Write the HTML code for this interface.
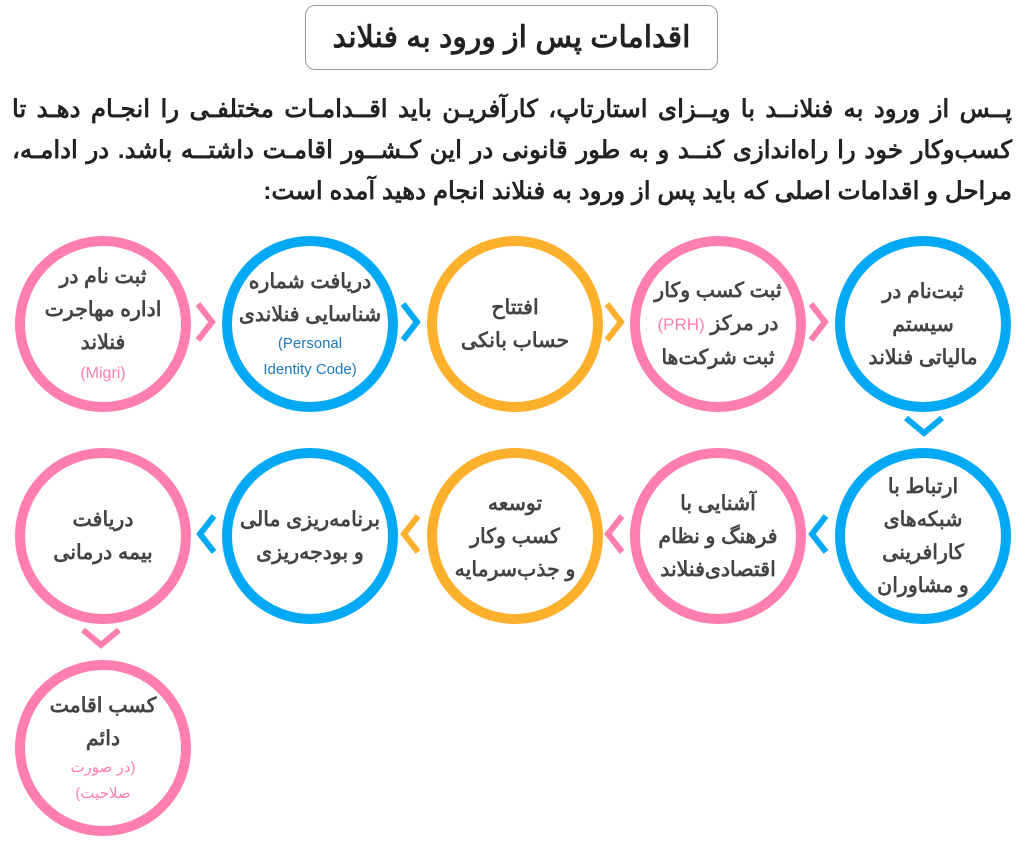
<!DOCTYPE html>
<html><head><meta charset="utf-8"><style>
body{margin:0;width:1024px;height:848px;background:#fff;position:relative;overflow:hidden;font-family:"Liberation Sans","Noto Sans CJK SC",sans-serif;color:#3a3a3a}
.title{position:absolute;left:305px;top:5px;width:411px;height:63px;border:1.5px solid #9a9a9a;border-radius:10px;text-align:center;line-height:63px;font-size:30px;font-weight:bold;color:#222;direction:rtl}
.p{position:absolute;left:12px;width:1000px;direction:rtl;text-align:justify;text-align-last:justify;font-size:24.5px;font-weight:bold;color:#222;white-space:nowrap}
.c{position:absolute;width:156px;height:156px;border-radius:50%;border:10px solid;display:flex;flex-direction:column;align-items:center;justify-content:center;text-align:center;direction:rtl;font-size:20.5px;font-weight:bold;line-height:33px;color:#444}
.pk{border-color:#ff7eb0}.bl{border-color:#03a9f4}.or{border-color:#fdb02c}
.s{font-size:15px;font-weight:normal;line-height:26px}
.sp{color:#ff7eb0}.sb{color:#1f7ab8}
.l{direction:ltr;unicode-bidi:isolate;display:inline-block}
svg{position:absolute;left:0;top:0}
</style></head><body>
<div class="title">اقدامات پس از ورود به فنلاند</div>
<div class="p" style="top:94px">پــس از ورود به فنلانــد با ویــزای استارتاپ، کارآفریـن باید اقــدامـات مختلفـی را انجـام دهـد تا</div>
<div class="p" style="top:135px">کسب‌وکار خود را راه‌اندازی کنــد و به طور قانونی در این کـشــور اقامـت داشتــه باشد. در ادامـه،</div>
<div class="p" style="top:176px;text-align-last:right">مراحل و اقدامات اصلی که باید پس از ورود به فنلاند انجام دهید آمده است:</div>

<div class="c pk" style="left:15px;top:236px">ثبت نام در<br>اداره مهاجرت<br>فنلاند<span class="s sp l" style="line-height:30px;font-size:16px">(Migri)</span></div>
<div class="c bl" style="left:222px;top:236px">دریافت شماره<br>شناسایی فنلاندی<span class="s sb l" style="text-align:center">(Personal<br>Identity Code)</span></div>
<div class="c or" style="left:427px;top:236px">افتتاح<br>حساب بانکی</div>
<div class="c pk" style="left:630px;top:236px">ثبت کسب وکار<br><span>در مرکز <span class="sp l" style="font-weight:normal;font-size:17px">(PRH)</span></span>ثبت شرکت‌ها</div>
<div class="c bl" style="left:835px;top:236px">ثبت‌نام در<br>سیستم<br>مالیاتی فنلاند</div>

<div class="c bl" style="left:835px;top:448px">ارتباط با<br>شبکه‌های<br>کارافرینی<br>و مشاوران</div>
<div class="c pk" style="left:630px;top:448px">آشنایی با<br>فرهنگ و نظام<br>اقتصادی‌فنلاند</div>
<div class="c or" style="left:427px;top:448px">توسعه<br>کسب وکار<br>و جذب‌سرمایه</div>
<div class="c bl" style="left:222px;top:448px">برنامه‌ریزی مالی<br>و بودجه‌ریزی</div>
<div class="c pk" style="left:15px;top:448px">دریافت<br>بیمه درمانی</div>

<div class="c pk" style="left:15px;top:660px">کسب اقامت<br>دائم<span class="s sp">(در صورت<br>صلاحیت)</span></div>

<svg width="1024" height="848" fill="none" stroke-width="6">
<polyline points="198,304 212,322 198,340" stroke="#ff7eb0"/>
<polyline points="403,304 417,322 403,340" stroke="#03a9f4"/>
<polyline points="607,304 621,322 607,340" stroke="#fdb02c"/>
<polyline points="811,304 825,322 811,340" stroke="#ff7eb0"/>
<polyline points="906,418 924,433 942,418" stroke="#03a9f4"/>
<polyline points="826,516 812,534 826,552" stroke="#03a9f4"/>
<polyline points="622,516 608,534 622,552" stroke="#ff7eb0"/>
<polyline points="418,516 404,534 418,552" stroke="#fdb02c"/>
<polyline points="214,516 200,534 214,552" stroke="#03a9f4"/>
<polyline points="83,630 101,645 119,630" stroke="#ff7eb0"/>
</svg>
</body></html>
